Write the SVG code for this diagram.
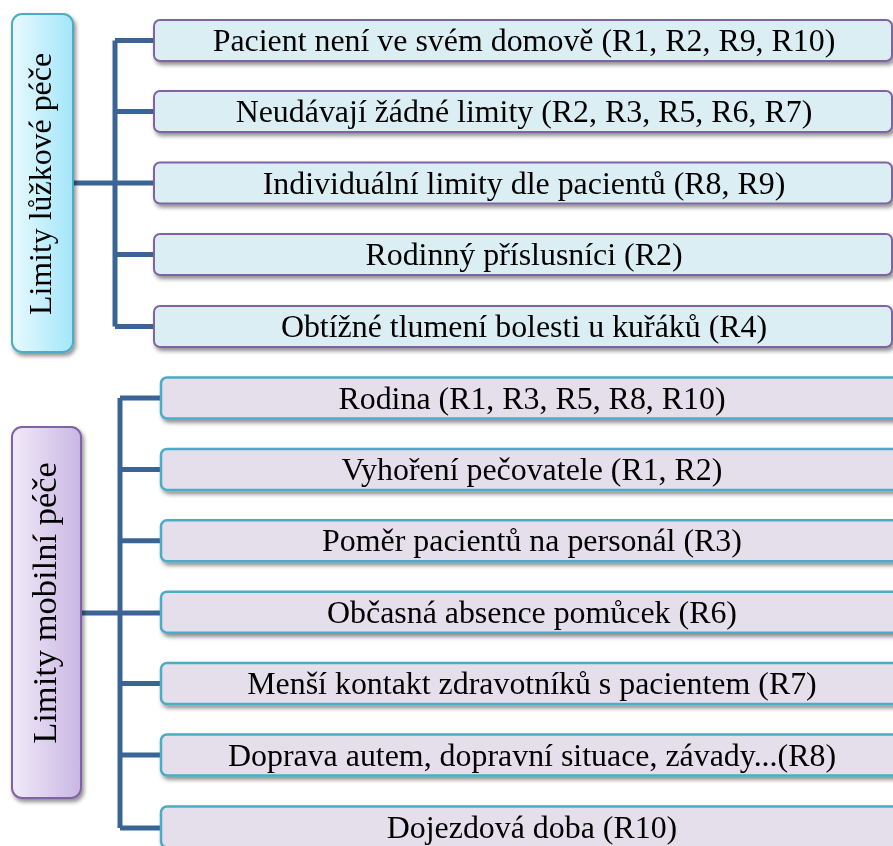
<svg xmlns="http://www.w3.org/2000/svg" width="893" height="846" viewBox="0 0 893 846">
  <defs>
    <linearGradient id="gTop" x1="0" y1="0" x2="1" y2="0">
      <stop offset="0" stop-color="#e9f9fe"/>
      <stop offset="1" stop-color="#a3e6fa"/>
    </linearGradient>
    <linearGradient id="gBot" x1="0" y1="0" x2="1" y2="0">
      <stop offset="0" stop-color="#f0ebf8"/>
      <stop offset="1" stop-color="#c9b6e3"/>
    </linearGradient>
    <filter id="sh" x="-10%" y="-20%" width="130%" height="160%">
      <feGaussianBlur in="SourceAlpha" stdDeviation="2"/>
      <feOffset dx="2" dy="3" result="b"/>
      <feComponentTransfer><feFuncA type="linear" slope="0.45"/></feComponentTransfer>
      <feMerge><feMergeNode/><feMergeNode in="SourceGraphic"/></feMerge>
    </filter>
  </defs>
  <style>
    text { font-family: "Liberation Serif", "Times New Roman", serif; font-size: 31.9px; fill: #000; }
    .lbl { text-anchor: middle; }
    .big { font-size: 34.5px; }
    .root1 { fill: url(#gTop); stroke: #4bacc6; stroke-width: 2; }
    .root2 { fill: url(#gBot); stroke: #8064a2; stroke-width: 2; }
    .c1 { fill: #dbeef4; stroke: #8064a2; stroke-width: 2; }
    .c2 { fill: #e5dfec; stroke: #4bacc6; stroke-width: 2.5; }
    .ln { fill: none; stroke: #3b6496; stroke-width: 5; }
  </style>
  <rect width="893" height="846" fill="#ffffff"/>

  <g id="connectors">
    <path class="ln" d="M115,40.5 V326.5 M73,183 H115 M115,40.5 H154 M115,111.5 H154 M115,183 H154 M115,254.5 H154 M115,326.5 H154"/>
    <path class="ln" d="M120,398 V828 M81,613 H161 M120,398 H161 M120,469.4 H161 M120,540.8 H161 M120,683.6 H161 M120,755 H161 M120,828 H161"/>
  </g>

  <g id="root-lozkova" filter="url(#sh)">
    <rect class="root1" x="12" y="14" width="61" height="338" rx="10"/>
    <text class="lbl" transform="translate(42,184) rotate(-90)" y="9">Limity lůžkové péče</text>
  </g>
  <g id="n1" filter="url(#sh)">
    <rect class="c1" x="154" y="20" width="738" height="41" rx="6"/>
    <text class="lbl" x="524" y="51">Pacient není ve svém domově (R1, R2, R9, R10)</text>
  </g>
  <g id="n2" filter="url(#sh)">
    <rect class="c1" x="154" y="91" width="738" height="41" rx="6"/>
    <text class="lbl" x="524" y="122">Neudávají žádné limity (R2, R3, R5, R6, R7)</text>
  </g>
  <g id="n3" filter="url(#sh)">
    <rect class="c1" x="154" y="162.5" width="738" height="41" rx="6"/>
    <text class="lbl" x="524" y="193.5">Individuální limity dle pacientů (R8, R9)</text>
  </g>
  <g id="n4" filter="url(#sh)">
    <rect class="c1" x="154" y="234" width="738" height="41" rx="6"/>
    <text class="lbl" x="524" y="265">Rodinný příslusníci (R2)</text>
  </g>
  <g id="n5" filter="url(#sh)">
    <rect class="c1" x="154" y="306" width="738" height="41" rx="6"/>
    <text class="lbl" x="524" y="337">Obtížné tlumení bolesti u kuřáků (R4)</text>
  </g>

  <g id="root-mobilni" filter="url(#sh)">
    <rect class="root2" x="12" y="427" width="69" height="371" rx="10"/>
    <text class="lbl big" transform="translate(45.5,603) rotate(-90)" y="10">Limity mobilní péče</text>
  </g>
  <g id="m1" filter="url(#sh)">
    <rect class="c2" x="161" y="377.5" width="760" height="41" rx="6"/>
    <text class="lbl" x="532" y="408.5">Rodina (R1, R3, R5, R8, R10)</text>
  </g>
  <g id="m2" filter="url(#sh)">
    <rect class="c2" x="161" y="448.9" width="760" height="41" rx="6"/>
    <text class="lbl" x="532" y="479.9">Vyhoření pečovatele (R1, R2)</text>
  </g>
  <g id="m3" filter="url(#sh)">
    <rect class="c2" x="161" y="520.3" width="760" height="41" rx="6"/>
    <text class="lbl" x="532" y="551.3">Poměr pacientů na personál (R3)</text>
  </g>
  <g id="m4" filter="url(#sh)">
    <rect class="c2" x="161" y="591.7" width="760" height="41" rx="6"/>
    <text class="lbl" x="532" y="622.7">Občasná absence pomůcek (R6)</text>
  </g>
  <g id="m5" filter="url(#sh)">
    <rect class="c2" x="161" y="663.1" width="760" height="41" rx="6"/>
    <text class="lbl" x="532" y="694.1">Menší kontakt zdravotníků s pacientem (R7)</text>
  </g>
  <g id="m6" filter="url(#sh)">
    <rect class="c2" x="161" y="734.5" width="760" height="41" rx="6"/>
    <text class="lbl" x="532" y="765.5">Doprava autem, dopravní situace, závady...(R8)</text>
  </g>
  <g id="m7" filter="url(#sh)">
    <rect class="c2" x="161" y="806.5" width="760" height="41" rx="6"/>
    <text class="lbl" x="532" y="837.5">Dojezdová doba (R10)</text>
  </g>
</svg>
